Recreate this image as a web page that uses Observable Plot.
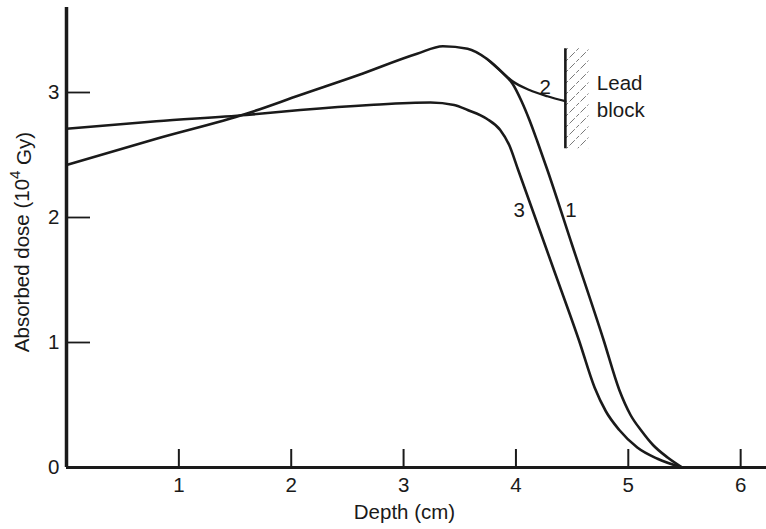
<!DOCTYPE html>
<html>
<head>
<meta charset="utf-8">
<script src="https://cdn.jsdelivr.net/npm/d3@7"></script>
<script src="https://cdn.jsdelivr.net/npm/@observablehq/plot@0.6"></script>
<style>
  html, body { margin: 0; padding: 0; background: #fff; }
  svg { font-family: "Liberation Sans", Arial, Helvetica, sans-serif; }
</style>
</head>
<body>
<div id="chart"></div>
<script>
// Depth-dose curves (depth in cm, absorbed dose in 10^4 Gy)
const depth1 = [0, 0.8, 1.6, 2.08, 2.6, 3.12, 3.35, 3.57, 3.74, 3.89, 3.97, 4.05, 4.12, 4.19, 4.28, 4.5, 4.78, 4.92, 5.02, 5.12, 5.22, 5.35, 5.48];
const dose1  = [2.42, 2.63, 2.83, 2.98, 3.14, 3.31, 3.37, 3.35, 3.27, 3.15, 3.07, 2.93, 2.78, 2.61, 2.38, 1.78, 1.02, 0.62, 0.42, 0.29, 0.18, 0.08, 0];

// Curve 2 leaves curve 1 after the peak and ends on the lead block
const depth2 = [3.74, 3.89, 3.97, 4.12, 4.28, 4.44];
const dose2  = [3.27, 3.15, 3.09, 3.02, 2.97, 2.93];

const depth3 = [0, 0.8, 1.6, 2.08, 2.7, 3.24, 3.45, 3.57, 3.74, 3.86, 3.94, 4.02, 4.33, 4.56, 4.70, 4.80, 4.92, 5.08, 5.26, 5.48];
const dose3  = [2.71, 2.77, 2.82, 2.86, 2.90, 2.92, 2.90, 2.86, 2.79, 2.70, 2.58, 2.38, 1.60, 1.02, 0.64, 0.45, 0.30, 0.16, 0.07, 0];

// Lead block face position and extent
const leadDepth = 4.44;
const leadBack = 4.65;
const leadBottom = 2.55;
const leadTop = 3.35;

// Axis ticks
const xTicks = [1, 2, 3, 4, 5, 6];
const yTicks = [0, 1, 2, 3];

// Curve annotations
const labelText  = ["1", "2", "3"];
const labelDepth = [4.49, 4.26, 4.03];
const labelDose  = [2.06, 3.04, 2.06];
const leadLines  = ["Lead", "block"];
const leadLineDose = [3.07, 2.86];

const toRows = (xs, ys) => xs.map((x, i) => ({x, y: ys[i]}));
const curve1 = toRows(depth1, dose1);
const curve2 = toRows(depth2, dose2);
const curve3 = toRows(depth3, dose3);
const labels = labelText.map((t, i) => ({t, x: labelDepth[i], y: labelDose[i]}));
const leadLabels = leadLines.map((t, i) => ({t, x: leadBack + 0.07, y: leadLineDose[i]}));

const W = 766, H = 529;
const mL = 66, mR = 0, mT = 7, mB = 62;
const plotW = W - mL - mR, plotH = H - mT - mB;
const ink = "#1a1a1a";
const fs = 20.5;

const chart = Plot.plot({
  width: W,
  height: H,
  marginLeft: mL,
  marginRight: mR,
  marginTop: mT,
  marginBottom: mB,
  style: {fontFamily: '"Liberation Sans", Arial, sans-serif', fontSize: fs + "px", color: ink, background: "#fff"},
  x: {domain: [0, 6.23]},
  y: {domain: [0, 3.68]},
  marks: [
    Plot.axisX(xTicks, {tickSize: 0, tickPadding: 10, label: null, fontSize: fs, tickFormat: d => String(d)}),
    Plot.axisY(yTicks, {tickSize: 0, tickPadding: 7, label: null, fontSize: fs, tickFormat: d => String(d)}),
    // inward tick marks
    Plot.tickX(xTicks, {x: d => d, insetTop: plotH - 18, stroke: ink, strokeWidth: 2}),
    Plot.tickY(yTicks.filter(d => d > 0), {y: d => d, insetRight: plotW - 24, stroke: ink, strokeWidth: 1.8}),
    // axis lines
    Plot.ruleX([0], {stroke: ink, strokeWidth: 3.5}),
    Plot.ruleY([0], {stroke: ink, strokeWidth: 3}),
    // lead block
    Plot.rect([{x1: leadDepth, x2: leadBack, y1: leadBottom, y2: leadTop}],
      {x1: "x1", x2: "x2", y1: "y1", y2: "y2", fill: "url(#lead-hatch)"}),
    Plot.ruleX([leadDepth], {y1: leadBottom, y2: leadTop, stroke: ink, strokeWidth: 2.6}),
    // dose curves
    Plot.line(curve3, {x: "x", y: "y", curve: "monotone-x", stroke: ink, strokeWidth: 2.6}),
    Plot.line(curve1, {x: "x", y: "y", curve: "monotone-x", stroke: ink, strokeWidth: 2.6}),
    Plot.line(curve2, {x: "x", y: "y", curve: "monotone-x", stroke: ink, strokeWidth: 2.3}),
    Plot.text(labels, {x: "x", y: "y", text: "t", fill: ink, fontSize: fs}),
    Plot.text(leadLabels, {x: "x", y: "y", text: "t", fill: ink, fontSize: fs, textAnchor: "start"}),
    Plot.text(["Depth (cm)"], {frameAnchor: "bottom", dx: -12, dy: 51, fill: ink, fontSize: fs})
  ]
});

document.getElementById("chart").appendChild(chart);

const svg = d3.select(chart);

// Hatching for the lead block
const defs = svg.insert("defs", ":first-child");
const pat = defs.append("pattern")
  .attr("id", "lead-hatch")
  .attr("patternUnits", "userSpaceOnUse")
  .attr("width", 11)
  .attr("height", 11);
pat.append("path")
  .attr("d", "M0,11 L11,0 M-2,2 L2,-2 M9,13 L13,9")
  .attr("stroke", "#555")
  .attr("stroke-width", 0.8)
  .attr("stroke-dasharray", "4,2")
  .attr("fill", "none");

// Vertical axis title with a superscript exponent
const ylab = svg.append("text")
  .attr("transform", "translate(21,242) rotate(-90)")
  .attr("text-anchor", "middle")
  .attr("dominant-baseline", "central")
  .attr("fill", ink)
  .style("font-size", fs + "px");
ylab.append("tspan").text("Absorbed dose (10");
ylab.append("tspan").attr("dy", "-0.45em").style("font-size", "15px").text("4");
ylab.append("tspan").attr("dy", "0.45em").text(" Gy)");
</script>
</body>
</html>
